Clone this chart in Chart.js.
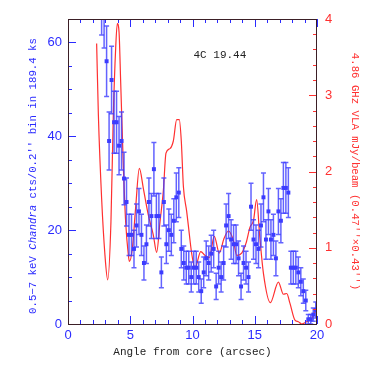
<!DOCTYPE html>
<html>
<head>
<meta charset="utf-8">
<script src="https://cdn.jsdelivr.net/npm/chart.js@4.4.0/dist/chart.umd.min.js"></script>
<style>
  html, body { margin: 0; padding: 0; background: #fff; }
</style>
</head>
<body>
<canvas id="chart" width="371" height="371"></canvas>
<script>
// X-ray counts per 0.2" bin (blue) and radio profile (red) along the jet

const angle = [
  2.7, 2.9, 3.1, 3.3, 3.5, 3.7, 3.9, 4.1, 4.3, 4.5,
  4.7, 4.9, 5.1, 5.3, 5.5, 5.7, 5.9, 6.1, 6.3, 6.5,
  6.7, 6.9, 7.1, 7.3, 7.5, 7.7, 7.9, 8.1, 8.3, 8.5,
  8.7, 8.9, 9.1, 9.3, 9.5, 9.7, 9.9, 10.1, 10.3, 10.5,
  10.7, 10.9, 11.1, 11.3, 11.5, 11.7, 11.9, 12.1, 12.3, 12.5,
  12.7, 12.9, 13.1, 13.3, 13.5, 13.7, 13.9, 14.1, 14.3, 14.5,
  14.7, 14.9, 15.1, 15.3, 15.5, 15.7, 15.9, 16.1, 16.3, 16.5,
  16.7, 16.9, 17.1, 17.3, 17.5, 17.7, 17.9, 18.1, 18.3, 18.5,
  18.7, 18.9, 19.1, 19.3, 19.5, 19.7, 19.9
];

const counts = [
  70, 67, 56, 39, 52, 43, 43, 38, 39, 31,
  26, 19, 19, 16, 21, 24, 19, 13, 17, 26,
  23, 33, 23, 23, 11, 26, 17, 20, 19, 22,
  27, 28, 16, 13, 12, 12, 10, 12, 12, 10,
  7, 11, 14, 13, 15, 16, 8, 12, 10, 13,
  21, 23, 18, 17, 17, 14, 8, 13, 12, 10,
  25, 18, 17, 16, 21, 27, 18, 24, 18, 19,
  14, 24, 22, 29, 29, 28, 12, 12, 12, 11,
  9, 7, 5, 1, 1, 2, 3
];

const countErr = [
  8.4, 8.2, 7.5, 6.2, 7.2, 6.6, 6.6, 6.2, 6.2, 5.6,
  5.1, 4.4, 4.4, 4.0, 4.6, 4.9, 4.4, 3.6, 4.1, 5.1,
  4.8, 5.7, 4.8, 4.8, 3.3, 5.1, 4.1, 4.5, 4.4, 4.7,
  5.2, 5.3, 4.0, 3.6, 3.5, 3.5, 3.2, 3.5, 3.5, 3.2,
  2.6, 3.3, 3.7, 3.6, 3.9, 4.0, 2.8, 3.5, 3.2, 3.6,
  4.6, 4.8, 4.2, 4.1, 4.1, 3.7, 2.8, 3.6, 3.5, 3.2,
  5.0, 4.2, 4.1, 4.0, 4.6, 5.2, 4.2, 4.9, 4.2, 4.4,
  3.7, 4.9, 4.7, 5.4, 5.4, 5.3, 3.5, 3.5, 3.5, 3.3,
  3.0, 2.6, 2.2, 1.0, 1.0, 1.4, 1.7
];

// radio profile, mJy/beam
const radioAngle = [
  2.30, 2.44, 2.70, 2.97, 3.19, 3.45, 3.64, 3.83, 3.96, 4.10,
  4.23, 4.44, 4.63, 4.85, 4.93, 5.17, 5.43, 5.73, 6.05, 6.45,
  6.85, 7.12, 7.39, 7.66, 7.87, 8.19, 8.46, 8.73, 8.94, 9.10,
  9.27, 9.53, 9.66, 9.93, 10.20, 10.66, 11.00, 11.35, 11.75, 12.15,
  12.53, 12.88, 13.28, 13.55, 13.95, 14.30, 14.62, 14.90, 15.15, 15.40,
  15.70, 16.25, 16.90, 17.30, 17.57, 17.83, 18.23, 18.50, 18.77, 19.17,
  19.57, 19.90
];
const radioFlux = [
  3.68, 2.74, 1.65, 0.90, 0.58, 1.34, 2.74, 3.62, 3.94, 3.83,
  3.18, 2.09, 1.34, 0.90, 0.82, 0.99, 1.52, 2.04, 1.78, 1.43,
  1.17, 0.94, 1.34, 1.75, 2.24, 2.30, 2.40, 2.68, 2.68, 2.40,
  1.80, 1.48, 1.30, 0.93, 0.73, 0.95, 0.90, 0.87, 1.15, 0.93,
  1.12, 1.22, 1.10, 0.90, 0.93, 1.06, 1.27, 1.36, 1.63, 1.15,
  0.66, 0.28, 0.55, 0.39, 0.40, 0.27, 0.05, 0.03, 0.00, 0.03,
  0.07, 0.18
];

const xTicks = [0, 5, 10, 15, 20];
const yTicks = [0, 20, 40, 60];
const y2Ticks = [0, 1, 2, 3, 4];

const BLUE = "#2b2bff";
const RED = "#ff3030";
const FRAME = "#3b1f26";

const fixTicks = (list) => (scale) => {
  scale.ticks = list.map((v) => ({ value: v }));
};

// frame plus inward pointing tick marks
const frameTicks = {
  id: "frameTicks",
  afterDraw(chart) {
    const { ctx, chartArea: a, scales } = chart;
    ctx.save();
    ctx.lineWidth = 1;

    ctx.strokeStyle = BLUE;
    for (let v = 0; v <= 20; v++) {
      const px = Math.round(scales.x.getPixelForValue(v)) + 0.5;
      const len = v % 5 === 0 ? 8 : 4;
      ctx.beginPath();
      ctx.moveTo(px, a.bottom);
      ctx.lineTo(px, a.bottom - len);
      ctx.moveTo(px, a.top);
      ctx.lineTo(px, a.top + len);
      ctx.stroke();
    }
    for (let v = 0; v <= 65; v += 5) {
      const py = Math.round(scales.y.getPixelForValue(v)) + 0.5;
      const len = v % 20 === 0 ? 8 : 4;
      ctx.beginPath();
      ctx.moveTo(a.left, py);
      ctx.lineTo(a.left + len, py);
      ctx.stroke();
    }
    ctx.strokeStyle = RED;
    for (let i = 0; i <= 20; i++) {
      const py = Math.round(scales.y2.getPixelForValue(i / 5)) + 0.5;
      const len = i % 5 === 0 ? 8 : 4;
      ctx.beginPath();
      ctx.moveTo(a.right, py);
      ctx.lineTo(a.right - len, py);
      ctx.stroke();
    }

    ctx.strokeStyle = FRAME;
    ctx.strokeRect(a.left + 0.5, a.top + 0.5, a.right - a.left - 1, a.bottom - a.top);

    // left axis title, with Chandra in italics
    const parts = [
      ["0.5\u22127 keV ", "normal"],
      ["Chandra", "italic"],
      [" cts/0.2'' bin in 189.4 ks", "normal"],
    ];
    const fam = "10.7px 'Liberation Mono'";
    let total = 0;
    parts.forEach((p) => {
      ctx.font = p[1] + " " + fam;
      total += ctx.measureText(p[0]).width;
    });
    ctx.translate(33, 176);
    ctx.rotate(-Math.PI / 2);
    ctx.fillStyle = BLUE;
    ctx.textBaseline = "middle";
    ctx.textAlign = "left";
    let cx = -total / 2;
    parts.forEach((p) => {
      ctx.font = p[1] + " " + fam;
      ctx.fillText(p[0], cx, 0);
      cx += ctx.measureText(p[0]).width;
    });
    ctx.restore();

    ctx.save();
    ctx.font = "11px 'Liberation Mono'";
    ctx.fillStyle = "#222";
    ctx.textAlign = "center";
    ctx.textBaseline = "middle";
    ctx.fillText("4C 19.44", scales.x.getPixelForValue(12.2), scales.y.getPixelForValue(57.4));
    ctx.restore();
  },
};

const errorBars = {
  id: "errorBars",
  beforeDatasetDraw(chart, args) {
    if (args.index !== 0) return;
    const { ctx, chartArea: a, scales } = chart;
    ctx.save();
    ctx.beginPath();
    ctx.rect(a.left, a.top, a.right - a.left, a.bottom - a.top);
    ctx.clip();
    ctx.strokeStyle = "rgba(60,60,255,0.8)";
    ctx.lineWidth = 1.5;
    angle.forEach((ang, i) => {
      const px = scales.x.getPixelForValue(ang);
      const lo = scales.y.getPixelForValue(counts[i] - countErr[i]);
      const hi = scales.y.getPixelForValue(counts[i] + countErr[i]);
      ctx.beginPath();
      ctx.moveTo(px, lo);
      ctx.lineTo(px, hi);
      ctx.moveTo(px - 2.5, lo);
      ctx.lineTo(px + 2.5, lo);
      ctx.moveTo(px - 2.5, hi);
      ctx.lineTo(px + 2.5, hi);
      ctx.stroke();
    });
    ctx.restore();
  },
};

new Chart(document.getElementById("chart"), {
  type: "scatter",
  data: {
    datasets: [
      {
        data: angle.map((a, i) => ({ x: a, y: counts[i] })),
        yAxisID: "y",
        pointStyle: "rect",
        pointRadius: 2.8,
        pointBorderWidth: 0,
        backgroundColor: "#3c3cff",
        borderColor: "#3c3cff",
      },
      {
        data: radioAngle.map((a, i) => ({ x: a, y: radioFlux[i] })),
        yAxisID: "y2",
        showLine: true,
        pointRadius: 0,
        borderColor: RED,
        borderWidth: 1.2,
        cubicInterpolationMode: "monotone",
      },
    ],
  },
  options: {
    responsive: false,
    animation: false,
    layout: { padding: { top: 19, left: 0, right: 0, bottom: 0 } },
    plugins: { legend: { display: false }, tooltip: { enabled: false } },
    scales: {
      x: {
        type: "linear",
        position: "bottom",
        min: 0,
        max: 20,
        grid: { display: false, drawTicks: false },
        border: { display: false },
        afterBuildTicks: fixTicks(xTicks),
        afterFit: (s) => { s.height = 47; },
        ticks: {
          color: BLUE,
          font: { family: "Liberation Sans", size: 13 },
          padding: 4,
          maxRotation: 0,
        },
        title: {
          display: true,
          text: "Angle from core (arcsec)",
          color: "#222",
          font: { family: "Liberation Mono", size: 11 },
          padding: { top: 0, bottom: 12 },
        },
      },
      y: {
        type: "linear",
        position: "left",
        min: 0,
        max: 65,
        grid: { display: false, drawTicks: false },
        border: { display: false },
        afterBuildTicks: fixTicks(yTicks),
        afterFit: (s) => { s.width = 68; },
        ticks: {
          color: BLUE,
          font: { family: "Liberation Sans", size: 13 },
          padding: 6,
        },
      },
      y2: {
        type: "linear",
        position: "right",
        min: 0,
        max: 4,
        grid: { display: false, drawTicks: false },
        border: { display: false },
        afterBuildTicks: fixTicks(y2Ticks),
        afterFit: (s) => { s.width = 54; },
        ticks: {
          color: RED,
          font: { family: "Liberation Sans", size: 13 },
          padding: 8,
        },
        title: {
          display: true,
          text: "4.86 GHz VLA mJy/beam (0.47''\u00d70.43'')",
          color: RED,
          font: { family: "Liberation Mono", size: 10.7 },
          padding: { top: 10, bottom: 0 },
        },
      },
    },
  },
  plugins: [errorBars, frameTicks],
});
</script>
</body>
</html>
